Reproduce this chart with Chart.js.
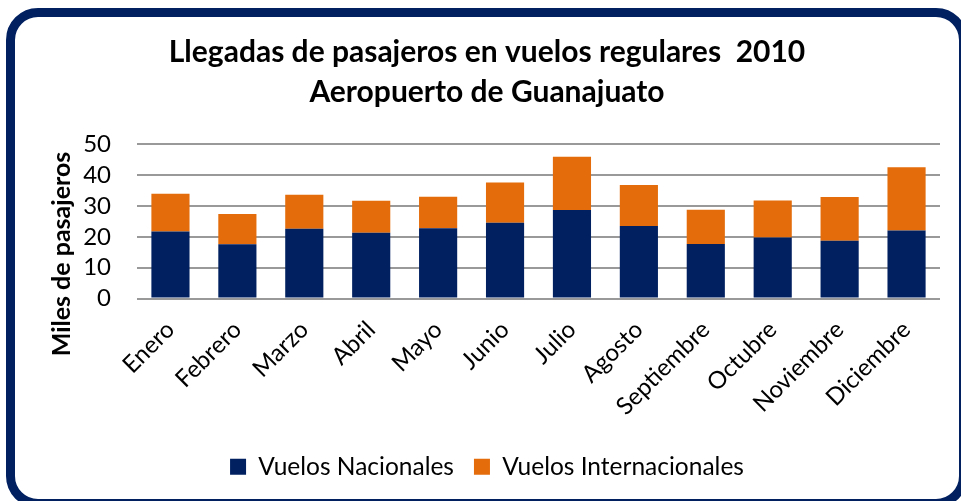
<!DOCTYPE html>
<html><head><meta charset="utf-8">
<script src="https://cdn.jsdelivr.net/npm/chart.js@4"></script>
<style>
html,body{margin:0;padding:0;background:#fff;}
#wrap{position:relative;width:961px;height:501px;overflow:hidden;background:#fff;}
#frame{position:absolute;left:6px;top:8px;width:962px;height:500px;border:9px solid #002060;border-radius:32px;box-sizing:border-box;pointer-events:none;}
canvas{position:absolute;left:0;top:0;}
</style></head>
<body><div id="wrap"><canvas id="c" width="961" height="501"></canvas><div id="frame"></div></div>
<script>
const months = ["Enero","Febrero","Marzo","Abril","Mayo","Junio","Julio","Agosto","Septiembre","Octubre","Noviembre","Diciembre"];
const nacionales = [21.7, 17.6, 22.6, 21.3, 22.8, 24.6, 28.7, 23.5, 17.7, 19.8, 18.7, 22.1];
const internacionales = [12.3, 9.8, 11.1, 10.4, 10.2, 13.0, 17.3, 13.3, 11.1, 12.0, 14.2, 20.5];
const yTicks = [0, 10, 20, 30, 40, 50];
const titleLines = ["Llegadas de pasajeros en vuelos regulares  2010", "Aeropuerto de Guanajuato"];
const yTitle = "Miles de pasajeros";
const seriesNames = ["Vuelos Nacionales", "Vuelos Internacionales"];

const FONT = "Lato, 'Open Sans', sans-serif";

const yTitlePlugin = {
  id: 'yTitle',
  afterDraw(chart) {
    const ctx = chart.ctx;
    ctx.save();
    ctx.translate(62, 254);
    ctx.rotate(-Math.PI / 2);
    ctx.font = "bold 25px " + FONT;
    ctx.fillStyle = "#000";
    ctx.textAlign = "center";
    ctx.textBaseline = "middle";
    ctx.fillText(yTitle, 0, 0);
    ctx.restore();
  }
};

new Chart(document.getElementById('c'), {
  type: 'bar',
  data: {
    labels: months,
    datasets: [
      { label: seriesNames[0], data: nacionales, backgroundColor: '#002060', borderWidth: 0, barPercentage: 0.57, categoryPercentage: 1 },
      { label: seriesNames[1], data: internacionales, backgroundColor: '#E46C0A', borderWidth: 0, barPercentage: 0.57, categoryPercentage: 1 }
    ]
  },
  options: {
    responsive: false,
    animation: false,
    devicePixelRatio: 1,
    layout: { padding: { left: 34, right: 21, top: 0, bottom: 12 } },
    plugins: {
      title: {
        display: true,
        text: titleLines,
        color: '#000',
        font: { family: FONT, size: 30, weight: 'bold', lineHeight: 1.34 },
        padding: { top: 32, bottom: 32 }
      },
      legend: {
        position: 'bottom',
        labels: {
          color: '#000',
          font: { family: FONT, size: 24.5 },
          boxWidth: 16, boxHeight: 16,
          padding: 20
        }
      },
      tooltip: { enabled: false }
    },
    scales: {
      x: {
        stacked: true,
        afterFit(s) { s.height = 136; },
        grid: { display: false },
        border: { display: false },
        ticks: {
          color: '#000',
          font: { family: FONT, size: 24 },
          maxRotation: 45, minRotation: 45,
          autoSkip: false,
          padding: 9
        }
      },
      y: {
        stacked: true,
        min: 0, max: 50,
        afterFit(s) { s.width = 103; },
        afterBuildTicks(s) { s.ticks = yTicks.map(v => ({ value: v })); },
        grid: { color: '#999', lineWidth: 2, drawTicks: false },
        border: { display: false },
        ticks: {
          color: '#000',
          font: { family: FONT, size: 24 },
          autoSkip: false,
          padding: 26
        }
      }
    }
  },
  plugins: [yTitlePlugin]
});
</script>
</body></html>
